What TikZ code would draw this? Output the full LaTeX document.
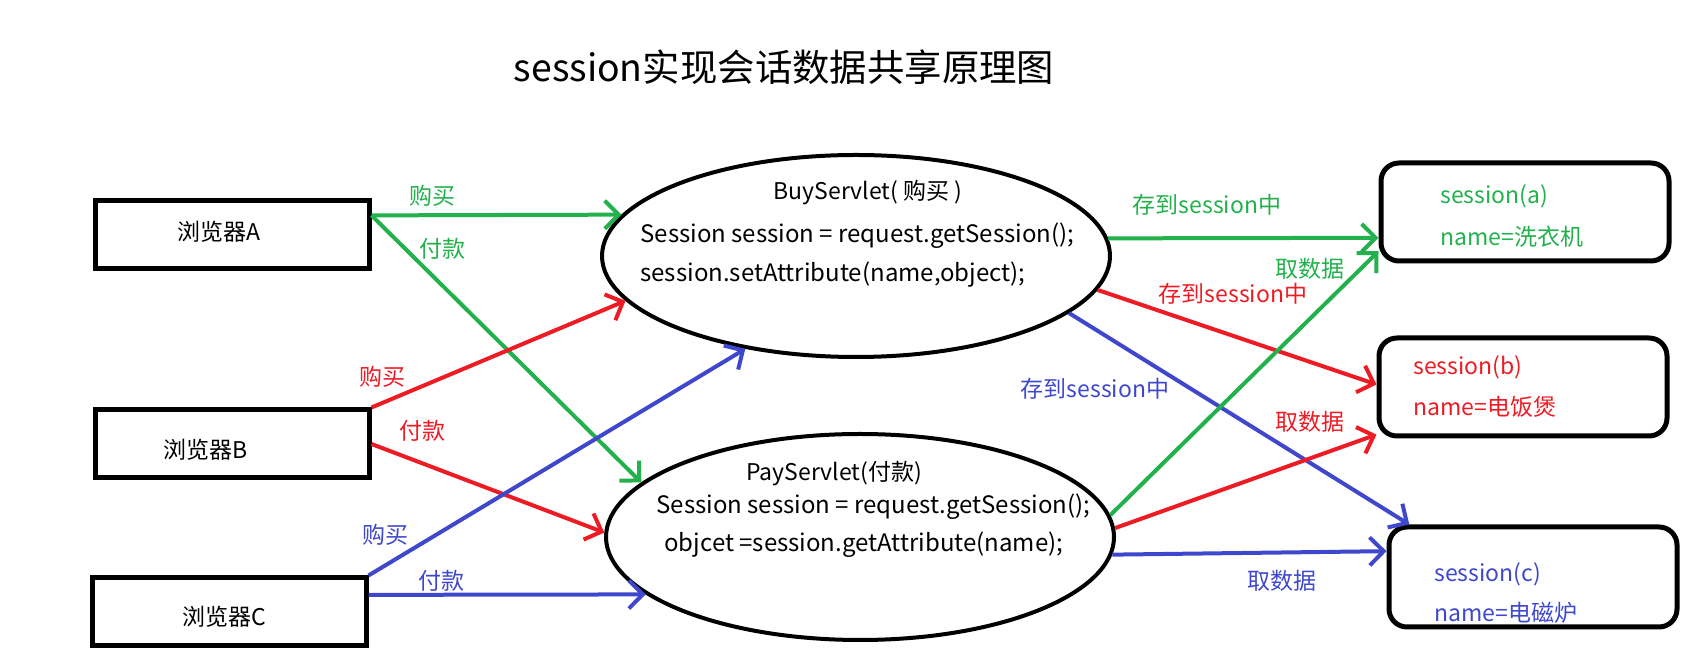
\documentclass[tikz,border=0pt]{standalone}
\usepackage{fontspec}
\setmainfont{Noto Sans CJK SC}
\usepackage{xcolor}
\usetikzlibrary{positioning, arrows.meta, shapes.geometric}
\definecolor{pgreen}{HTML}{22B14C}
\definecolor{pred}{HTML}{ED1C24}
\definecolor{pblue}{HTML}{3F48CC}

\begin{document}
\begin{tikzpicture}[
		x=0.5pt, y=-0.5pt,
		font=\fontsize{11.5}{14}\selectfont,
		browser/.style={draw, line width=2.5pt, minimum width=137pt, minimum height=34pt, inner sep=0pt},
		servlet/.style={draw, ellipse, line width=2pt, minimum width=254pt, minimum height=101pt, inner sep=0pt},
		store/.style={draw, rounded corners=9pt, line width=2.5pt, minimum width=144pt, minimum height=49pt, inner sep=0pt},
		code/.style={anchor=west, inner sep=0pt},
		flow/.style={line width=2pt, -{Straight Barb[length=7pt,width=14pt]}}
		]
		\useasboundingbox (0,0) rectangle (1702,672);
		
		% Title
		\node[font=\fontsize{18.7}{22}\selectfont] (title) at (784,67) {session实现会话数据共享原理图};
		
		% Browsers
		\node[browser] (browserA) at (232,235) {};
		\node (textA) at (219,232) {浏览器A};
		\node[browser] (browserB) at (232,444) {};
		\node (textB) at (206,450) {浏览器B};
		\node[browser] (browserC) at (229,612) {};
		\node (textC) at (224,617) {浏览器C};
		
		% Servlets
		\node[servlet] (buy) at (856,256) {};
		\node (buytitle) at (868,193) {BuyServlet( 购买 )};
		\node[code, font=\fontsize{12}{14}\selectfont] (buyget) at (640,236) {Session session = request.getSession();};
		\node[code, font=\fontsize{12}{14}\selectfont] (buyset) at (640,275) {session.setAttribute(name,object);};
		
		\node[servlet, minimum height=103pt] (pay) at (860,537) {};
		\node (paytitle) at (834,474) {PayServlet(付款)};
		\node[code, font=\fontsize{12}{14}\selectfont] (payget) at (656,507) {Session session = request.getSession();};
		\node[code, font=\fontsize{12}{14}\selectfont] (payattr) at (664,545) {objcet =session.getAttribute(name);};
		
		% Sessions
		\node[store] (sessA) at (1525,212) {};
		\node[code, text=pgreen] (sessAid) at (1440,196) {session(a)};
		\node[code, text=pgreen] (sessAname) at (1440,237) {name=洗衣机};
		\node[store] (sessB) at (1523,387) {};
		\node[code, text=pred] (sessBid) at (1413,367) {session(b)};
		\node[code, text=pred] (sessBname) at (1413,407) {name=电饭煲};
		\node[store, minimum height=50pt] (sessC) at (1533,577) {};
		\node[code, text=pblue] (sessCid) at (1434,574) {session(c)};
		\node[code, text=pblue] (sessCname) at (1434,613) {name=电磁炉};
		
		% Requests from the browsers
		\draw[flow, pgreen] (browserA.8) -- (buy.170);
		\draw[flow, pgreen] (browserA.8) -- (pay.166);
		\draw[flow, pred] (browserB.north east) -- (buy.191);
		\draw[flow, pred] (browserB.east) -- (pay.179);
		\draw[flow, pblue] (browserC.north east) -- (buy.220);
		\draw[flow, pblue] (browserC.7) -- (pay.195);
		
		\node[text=pgreen] (buyA) at (432,196) {购买};
		\node[text=pgreen] (payA) at (442,249) {付款};
		\node[text=pred] (buyB) at (382,377) {购买};
		\node[text=pred] (payB) at (422,431) {付款};
		\node[text=pblue] (buyC) at (385,535) {购买};
		\node[text=pblue] (payC) at (441,581) {付款};
		
		% Store into the session
		\draw[flow, pgreen] (buy.4) -- (sessA.190);
		\draw[flow, pred] (buy.352) -- (sessB.179);
		\draw[flow, pblue] (buy.345) -- (sessC.157);
		
		\node[text=pgreen] (storeA) at (1207,205) {存到session中};
		\node[text=pred] (storeB) at (1233,294) {存到session中};
		\node[text=pblue] (storeC) at (1095,389) {存到session中};
		
		% Fetch from the session
		\draw[flow, pgreen] (pay.5) -- (sessA.195);
		\draw[flow, pred] (pay.2) -- (sessB.198);
		\draw[flow, pblue] (pay.356) -- (sessC.170);
		
		\node[text=pgreen] (fetchA) at (1310,269) {取数据};
		\node[text=pred] (fetchB) at (1310,422) {取数据};
		\node[text=pblue] (fetchC) at (1282,581) {取数据};
		
	\end{tikzpicture}
\end{document}
